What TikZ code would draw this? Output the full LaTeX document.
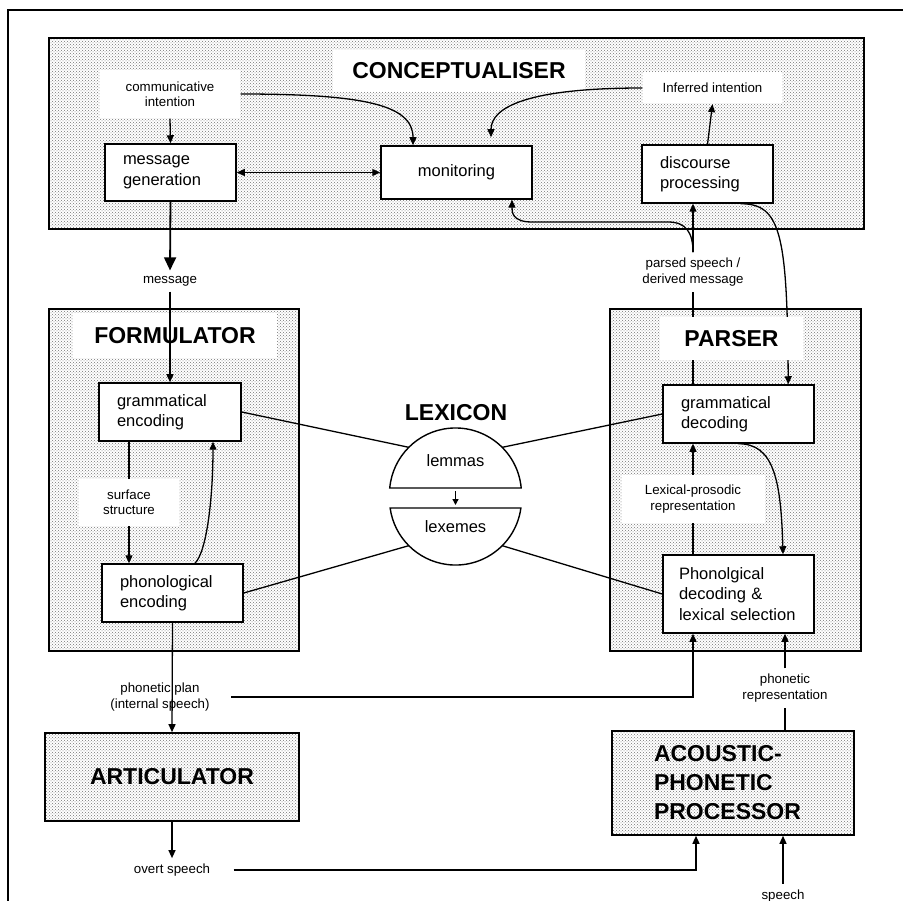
\documentclass[tikz,border=0pt]{standalone}
\usepackage{fontspec}
\setmainfont{Liberation Sans}
\usetikzlibrary{
  arrows.meta,
  positioning,
  patterns,
}
\tikzset{
  >={Triangle[width=7pt,length=8pt]},
}
\newcommand\lblfont{\fontsize{13.3}{15.5}\selectfont}
\newcommand\boxfont{\fontsize{16.5}{20.5}\selectfont}
\newcommand\ttlfont{\fontsize{23}{29}\selectfont\bfseries}

\begin{document}
\begin{tikzpicture}[
      x=1pt, y=-1pt,
      line width=1.3pt,
      every node/.style={
        inner sep=0pt,
      },
      part/.style={draw,
        line width=1.6pt,
        pattern=crosshatch dots,
        pattern color=black!55,
      },
      proc/.style={draw,
        line width=1.5pt,
        fill=white,
        align=left,
        inner xsep=18pt,
        font=\boxfont,
      },
      patch/.style={
        fill=white,
      },
      lbl/.style={
        align=center,
        inner sep=5pt,
        font=\lblfont,
      },
      ttl/.style={
        align=center,
        font=\ttlfont,
      },
      ]
      \useasboundingbox (0,0) rectangle (903,901);
      \draw[line width=1.5pt] (903,10) -- (8,10) -- (8,901);

      % processing components
      \node[part, minimum width=815pt, minimum height=191pt] (concept) at (456.5,133.5) {};
      \node[part, minimum width=250pt, minimum height=342pt] (formul) at (174,480) {};
      \node[part, minimum width=251pt, minimum height=342pt] (parser) at (735.5,480) {};
      \node[part, ttl, minimum width=254pt, minimum height=88pt] (artic) at (172,777) {ARTICULATOR};
      \node[part, ttl, align=left, text width=158pt, inner xsep=42pt,
        minimum height=104pt] (acoustic) at (733,783) {ACOUSTIC-\\PHONETIC\\PROCESSOR};

      % boxes
      \node[proc, text width=95pt, minimum height=57pt] (msggen) at (170.5,172.5) {message\\generation};
      \node[proc, align=center, minimum width=151pt, minimum height=53pt] (monitor) at (456.5,172.5) {monitoring};
      \node[proc, text width=95pt, minimum height=58pt] (disc) at (707.5,174) {discourse\\processing};
      \node[proc, text width=106pt, minimum height=58pt] (gramenc) at (170,412) {grammatical\\encoding};
      \node[proc, text width=105pt, minimum height=58pt] (phonenc) at (172.5,593) {phonological\\encoding};
      \node[proc, text width=115pt, minimum height=58pt] (gramdec) at (738.5,414) {grammatical\\decoding};
      \node[proc, text width=119pt, inner xsep=16pt, minimum height=78pt] (phondec) at (738.5,594) {Phonolgical\\decoding \&\\lexical selection};

      % labels
      \node[lbl] (message) at (170,281) {message};
      \node[lbl] (parsed) at (693,272) {parsed speech /\\derived message};
      \node[lbl] (pplan) at (160,697) {phonetic plan\\(internal speech)};
      \node[lbl] (overt) at (172,870) {overt speech};
      \node[lbl] (phonrep) at (785,688) {phonetic\\representation};
      \node[lbl, below=48pt of acoustic.south, xshift=50pt] (speech) {speech};

      % behind the parser title
      \draw[->] ([xshift=-33pt]disc.south east) .. controls +(40,0) and +(-1,-150) .. ([xshift=-26.5pt]gramdec.north east);
      \draw ([xshift=-45.5pt]gramdec.north) -- (parsed.south);

      % titles
      \node[patch, ttl, minimum width=252pt, minimum height=42pt] (concept-ttl) at (459,71) {CONCEPTUALISER};
      \node[patch, ttl, minimum width=204pt, minimum height=45pt] (formul-ttl) at (175,336) {FORMULATOR};
      \node[patch, ttl, minimum width=143pt, minimum height=43pt] (parser-ttl) at (731.5,338.5) {PARSER};
      \node[ttl] (lexicon) at (456,413) {LEXICON};
      \node[patch, lbl, minimum width=140pt, minimum height=48pt] (commint) at (170,94) {communicative\\intention};
      \node[patch, lbl, minimum width=139pt, minimum height=31pt] (inferred) at (712.5,88) {Inferred intention};

      % lexicon
      \coordinate (lemc) at (455.5,494);
      \coordinate (lexc) at (455.5,499);
      \draw[line width=1.4pt, fill=white] (521.2,488) arc[start angle=-5.2, end angle=-174.8, radius=66] -- cycle;
      \draw[line width=1.4pt, fill=white] (520.9,508) arc[start angle=7.8, end angle=172.2, radius=66] -- cycle;
      \node[font=\boxfont] (lemmas) at (455.5,461) {lemmas};
      \node[font=\boxfont] (lexemes) at (455.5,527) {lexemes};
      \coordinate (lem-b) at (455.5,491);
      \coordinate (lex-t) at (455.5,505);
      \draw[->, >={Triangle[width=6pt,length=6pt]}] (lem-b) -- (lex-t);

      \path
      (gramenc.east) edge ([shift={(-135:66)}]lemc)
      (phonenc.east) edge ([shift={(135:66)}]lexc)
      (gramdec.west) edge ([shift={(-45:66)}]lemc)
      (phondec.west) edge ([shift={(45:66)}]lexc)
      ;

      % conceptualiser arrows
      \draw[->] (commint.south) -- (msggen.north);
      \draw[->] (commint.east) .. controls +(125,0) and +(0,-40) .. ([xshift=-43.5pt]monitor.north);
      \draw[<->] (msggen.east) -- (monitor.west);
      \draw[->] (inferred.west) .. controls +(-115,0) and +(0,-30) .. ([xshift=34.5pt,yshift=8pt]monitor.north);
      \draw[->] (disc.north) -- (inferred.south);
      \draw[-{Triangle[width=12pt,length=13pt]}, line width=1.8pt] (msggen.south) -- (message.north);
      \draw[->] (parsed.north) -- (parsed.north |- disc.south);
      \draw[->] (parsed.north) .. controls +(0,-20) and +(18,0) .. (668,222) -- (532,222)
        .. controls +(-20,0) and +(0,12) .. ([xshift=55.5pt]monitor.south);

      % formulator arrows
      \draw[->] (message.south) -- (gramenc.north);
      \draw[->] ([xshift=-41pt]gramenc.south) -- node[patch, lbl, minimum width=100pt, minimum height=47pt] (surf) {surface\\structure} ([xshift=-43.5pt]phonenc.north);
      \draw[->] ([xshift=22.5pt]phonenc.north) .. controls +(12,-12) and +(0,55) .. ([xshift=43pt]gramenc.south);
      \draw[->] (phonenc.south) -- (artic.north);
      \draw[->] ([xshift=16pt]pplan.east) -| ([xshift=-45.5pt]phondec.south);
      \draw[->] (artic.south) -- (overt.north);
      \draw[->] ([xshift=18pt]overt.east) -| ([xshift=-37pt]acoustic.south);

      % parser arrows
      \draw[->] ([xshift=-45.5pt]phondec.north) -- node[patch, lbl, minimum width=143pt, minimum height=48pt] (lexpros) {Lexical-prosodic\\representation} ([xshift=-45.5pt]gramdec.south);
      \draw[->] (gramdec.south) .. controls +(35,0) and +(-2,-75) .. ([xshift=44.5pt]phondec.north);
      \draw (acoustic.north -| phonrep) -- (phonrep.south);
      \draw[->] (phonrep.north) -- (phonrep.north |- phondec.south);
      \draw[->] (speech.north) -- (speech.north |- acoustic.south);
    \end{tikzpicture}
\end{document}
